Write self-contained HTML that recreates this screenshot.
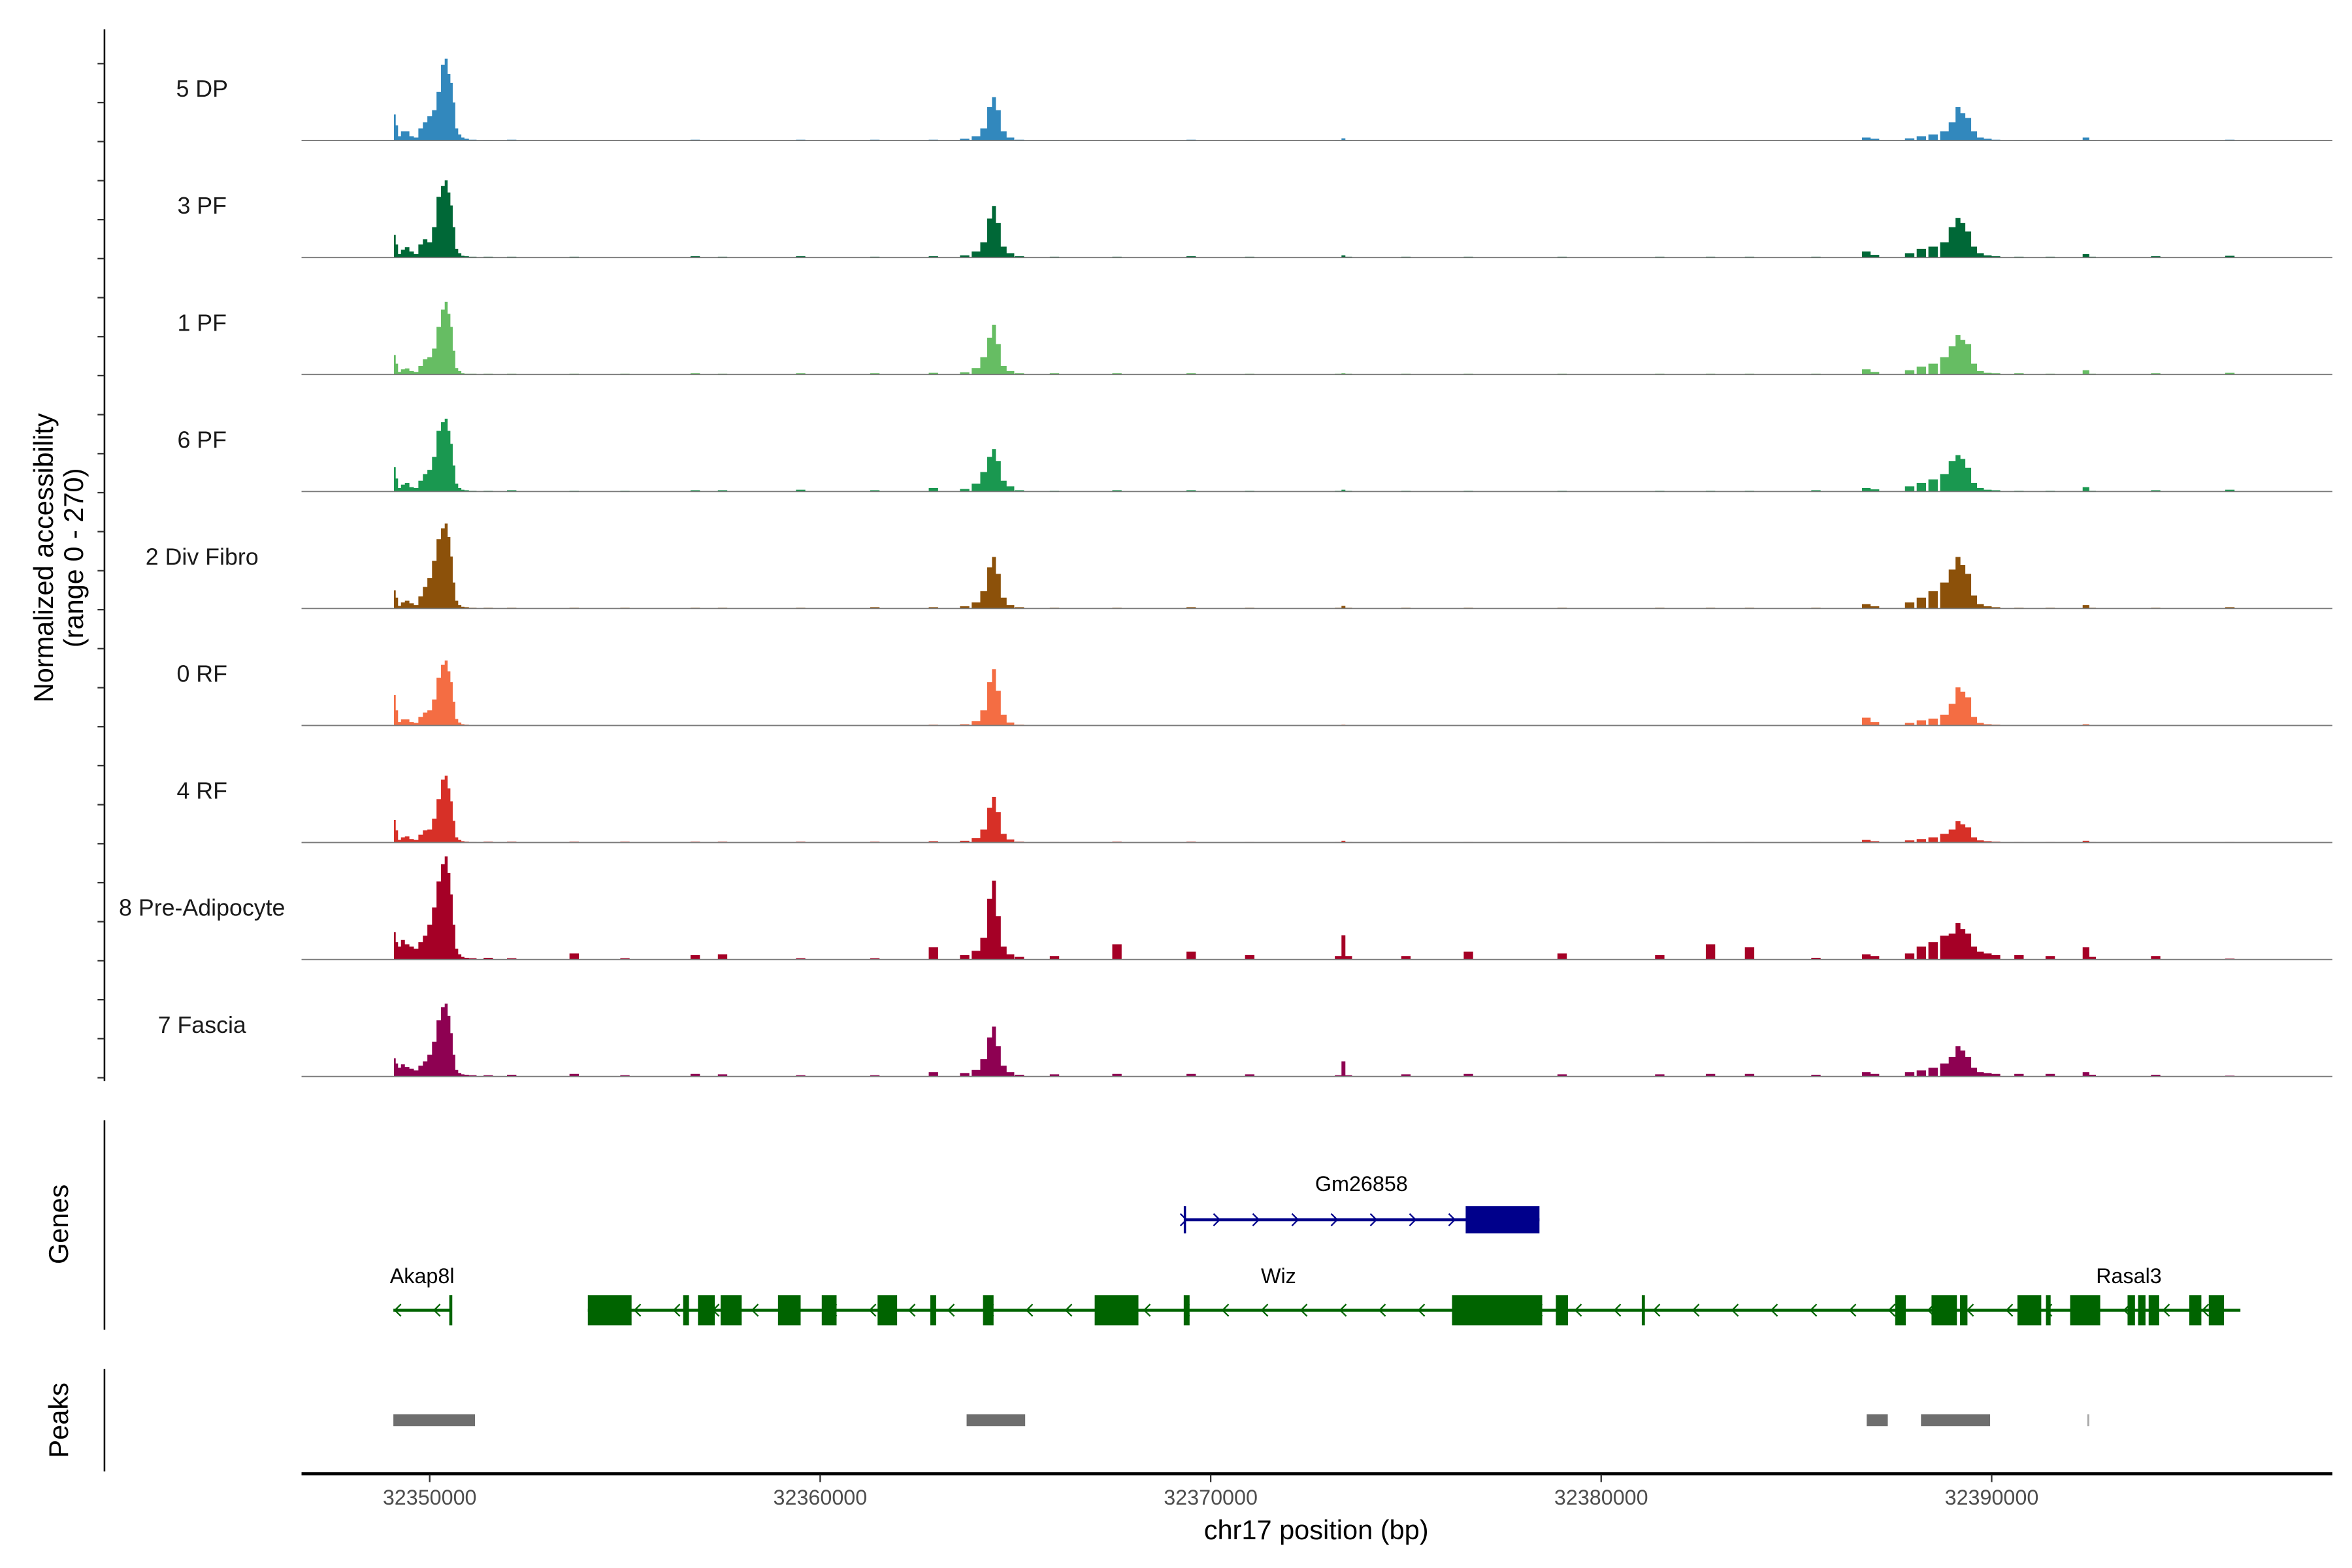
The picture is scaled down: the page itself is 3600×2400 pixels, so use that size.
<!DOCTYPE html>
<html><head><meta charset="utf-8"><style>
html,body{margin:0;padding:0;background:#fff;}
svg{display:block;font-family:"Liberation Sans",Arial,sans-serif;}
</style></head><body>
<svg id="chart" xmlns="http://www.w3.org/2000/svg" width="3600" height="2400" viewBox="0 0 1560 1040">
<rect x="0" y="0" width="1560" height="1040" fill="#fff"/>
<g id="tracks"></g>
<g id="genes"></g>
<g id="peaks"></g>
<g id="axes"></g>
<text x="0" y="0" transform="translate(35,370) rotate(-90)" text-anchor="middle" font-size="18" fill="#000">Normalized accessibility</text>
<text x="0" y="0" transform="translate(55,370) rotate(-90)" text-anchor="middle" font-size="18" fill="#000">(range 0 - 270)</text>
<text x="0" y="0" transform="translate(45,812) rotate(-90)" text-anchor="middle" font-size="18" fill="#000">Genes</text>
<text x="0" y="0" transform="translate(45,942) rotate(-90)" text-anchor="middle" font-size="18" fill="#000">Peaks</text>
<text x="873" y="1021" text-anchor="middle" font-size="18" fill="#000">chr17 position (bp)</text>
</svg>
<script>
// positions in kb relative to 32350000
const positionsKb = [-0.93,-0.90,-0.84,-0.78,-0.69,-0.58,-0.46,-0.35,-0.23,-0.12,0,0.12,0.23,0.35,0.42,0.50,0.56,0.62,0.69,0.77,0.85,0.93,1.08,
 1.5,2.1,3.7,5.0,6.8,7.5,9.5,11.4,12.9,
 13.7,14.0,14.2,14.35,14.45,14.55,14.7,14.85,15.1,
 16.0,17.6,19.5,21.0,23.3,23.4,23.5,25.0,26.6,29.0,31.5,32.8,33.8,35.5,
 36.8,37.0,37.9,38.2,38.5,38.8,39.0,39.15,39.25,39.4,39.55,39.7,39.9,40.1,40.7,
 41.5,42.45,42.55,44.2,46.1];
const trackNames = ["5 DP","3 PF","1 PF","6 PF","2 Div Fibro","0 RF","4 RF","8 Pre-Adipocyte","7 Fascia"];
const trackColors = ["#3288bd","#006837","#66bd63","#1a9850","#8c510a","#f46d43","#d73027","#a50026","#8e0152"];
const vals5DP = [0,60,35,10,21,21,10,7,28,42,56,70,112,175,189,154,133,88,28,14,7,4,2, 1,2,1,1,2,1,2,2,2, 4,10,28,77,100,70,21,7,2, 1,1,2,1,1,5,1,1,1,1,1,1,1,1, 7,4,5,10,14,21,42,77,63,52,21,7,4,2,1, 1,7,1,1,2];
const vals3PF = [0,52,30,8,18,24,14,8,30,42,35,70,140,165,178,150,120,70,20,10,4,3,2, 2,2,2,1,3,2,3,2,3, 5,14,35,90,119,80,25,10,3, 2,2,3,2,1,5,2,2,2,2,2,2,2,2, 14,6,10,20,25,35,70,91,80,60,25,10,5,3,2, 2,8,2,3,4];
const vals1PF = [0,45,25,6,12,14,8,6,20,35,40,60,110,150,168,140,110,55,15,8,3,2,2, 2,2,2,2,3,2,3,3,4, 5,15,40,85,115,70,20,8,3, 3,3,3,2,2,3,2,2,2,2,2,2,2,2, 12,6,10,18,25,40,65,91,80,70,25,8,4,3,3, 2,10,2,3,4];
const vals6PF = [0,56,30,8,16,20,10,8,25,40,50,80,140,160,168,140,110,60,18,8,4,3,2, 2,3,2,2,3,3,4,3,8, 6,18,45,80,98,70,25,12,3, 2,3,3,2,2,4,2,2,2,2,2,2,2,3, 8,5,12,20,28,40,70,84,75,55,20,8,4,3,2, 2,10,2,3,4];
const valsDivFibro = [0,42,25,6,14,18,12,8,28,50,70,110,160,185,196,165,120,60,18,8,4,3,2, 2,2,2,2,2,2,2,3,3, 5,14,40,95,119,80,25,8,3, 2,2,3,2,2,6,2,2,2,2,2,2,2,2, 10,5,14,25,40,60,90,119,100,80,30,10,5,3,2, 2,8,2,2,3];
const vals0RF = [0,70,35,8,14,14,8,6,20,30,35,60,110,140,150,125,100,55,15,7,3,2,1, 1,1,1,1,1,1,1,1,2, 3,10,35,100,130,80,25,7,2, 1,1,1,1,1,2,1,1,1,1,1,1,1,1, 18,8,6,12,16,25,50,88,78,65,20,6,3,2,1, 1,3,1,1,1];
const vals4RF = [0,52,28,6,12,14,8,6,18,28,30,55,100,145,154,125,95,50,12,6,3,2,1, 2,2,2,2,2,2,2,2,3, 4,10,30,80,105,70,20,7,2, 1,2,2,1,1,4,1,1,1,1,1,1,1,1, 6,3,5,8,12,20,30,49,42,35,12,5,3,2,1, 1,4,1,1,1];
const valsPreAdipo = [0,63,40,30,45,35,30,25,40,55,80,120,180,220,238,200,150,80,25,12,6,4,3, 4,3,14,3,10,12,3,3,28, 10,20,50,140,182,100,30,12,6, 8,35,18,10,8,56,8,8,18,14,10,35,28,4, 12,8,14,30,40,55,60,84,70,60,30,18,14,10,10, 8,28,6,8,2];
const valsFascia = [0,42,30,20,28,22,18,14,25,35,50,80,130,160,168,140,100,50,15,8,5,4,3, 3,4,6,3,6,5,3,3,10, 8,15,40,90,115,70,25,10,4, 5,6,6,5,3,35,3,5,6,5,5,6,6,4, 10,6,10,14,20,30,45,70,60,45,20,10,8,6,6, 6,10,4,4,2];
const allTrackValues = [vals5DP,vals3PF,vals1PF,vals6PF,valsDivFibro,vals0RF,vals4RF,valsPreAdipo,valsFascia];
const yRangeMax = 270;
const xTickLabels = ["32350000","32360000","32370000","32380000","32390000"];
const xTickValuesKb = [0,10,20,30,40];
const wizStartKb = 4.05, wizEndKb = 46.37;
const wizExonStarts = [4.05,6.49,6.87,7.45,8.92,10.04,11.47,12.82,14.17,17.03,19.31,26.18,28.84,31.04,37.53,38.46,39.19,40.66,41.39,42.01,43.48,43.75,44.02,45.06,45.56];
const wizExonEnds   = [5.17,6.64,7.30,7.99,9.50,10.42,11.97,12.97,14.44,18.15,19.46,28.49,29.15,31.12,37.80,39.11,39.38,41.27,41.51,42.78,43.67,43.94,44.29,45.37,45.95];
const akapStartKb = -0.93, akapEndKb = 0.54;
const gmStartKb = 19.34, gmEndKb = 28.42, gmExonStartKb = 26.53;
const peakStarts = [-0.93,13.75,36.80,38.19,42.45];
const peakEnds   = [1.16,15.25,37.34,39.96,42.50];

const NS="http://www.w3.org/2000/svg";
function mk(tag, attrs, parent){const e=document.createElementNS(NS,tag);for(const k in attrs)e.setAttribute(k,attrs[k]);parent.appendChild(e);return e;}
function xScale(kb){return 285 + kb*25.9;}
const trackBase0 = 93.2, trackStep = 77.6, trackH = 77.6;
function yScale(v, base){return base - v/yRangeMax*trackH;}

const tracksG=document.getElementById('tracks');
const n=positionsKb.length;
allTrackValues.forEach((vals,i)=>{
  const base = trackBase0 + i*trackStep;
  let d = "";
  let prevRight = null;
  for(let j=0;j<n;j++){
    const p=positionsKb[j];
    const gl = j>0 ? (p-positionsKb[j-1])/2 : 0.03;
    const gr = j<n-1 ? (positionsKb[j+1]-p)/2 : 0.12;
    const l = p - Math.min(gl,0.12), r = p + Math.min(gr,0.12);
    const y = yScale(vals[j],base).toFixed(2);
    if(prevRight===null || Math.abs(prevRight-l)>1e-6){
      if(prevRight!==null) d += " L"+xScale(prevRight).toFixed(2)+","+base+" Z";
      d += " M"+xScale(l).toFixed(2)+","+base;
    }
    d += " L"+xScale(l).toFixed(2)+","+y+" L"+xScale(r).toFixed(2)+","+y;
    prevRight = r;
  }
  d += " L"+xScale(prevRight).toFixed(2)+","+base+" Z";
  const path=mk('path',{d:d,fill:trackColors[i],stroke:'none'},tracksG);
  
  
  const bl=mk('line',{x1:200,x2:1547,y1:base,y2:base,stroke:'#7a7a7a','stroke-width':0.8},tracksG);
  
  
  const t=mk('text',{x:134,y:base-29,'text-anchor':'middle','font-size':15.5,fill:'#1a1a1a'},tracksG);
  t.textContent=trackNames[i];
  
  
});

const axesG=document.getElementById('axes');
function ln(x1,y1,x2,y2,stroke,w,name,parent){const l=mk('line',{x1:x1,y1:y1,x2:x2,y2:y2,stroke:stroke,'stroke-width':w},parent||axesG);return l;}
ln(69.3,19.5,69.3,717,'#000',1.1,'y-axis-line');
for(let k=0;k<27;k++){const y=714.8-k*25.87;if(y<30)break;ln(64.7,y,69.3,y,'#333',1,'y-axis-tick');}
ln(69.3,743,69.3,882,'#000',1.1,'genes-axis-line');
ln(69.3,908,69.3,976,'#000',1.1,'peaks-axis-line');
ln(200,977.5,1547,977.5,'#000',2.2,'x-axis-line');
xTickValuesKb.forEach((v,i)=>{
  const x=xScale(v);
  ln(x,978,x,983,'#333',1,'x-axis-tick');
  const t=mk('text',{x:x,y:998,'text-anchor':'middle','font-size':14,fill:'#4d4d4d'},axesG);
  t.textContent=xTickLabels[i];
  
  
});

const genesG=document.getElementById('genes');
const green="#006400", navy="#00008b";
function chevron(x,y,dir,color){const p=mk('path',{d:dir<0?`M${x+3},${y-4} L${x-1},${y} L${x+3},${y+4}`:`M${x-3},${y-4} L${x+1},${y} L${x-3},${y+4}`,fill:'none',stroke:color,'stroke-width':1},genesG);}
const gy=869;
ln(xScale(wizStartKb),gy,xScale(wizEndKb),gy,green,2,'wiz-intron-line',genesG);
for(let x=xScale(wizStartKb)+6;x<xScale(wizEndKb)-2;x+=26){chevron(x,gy,-1,green);}
wizExonStarts.forEach((s,i)=>{const r=mk('rect',{x:xScale(s),y:859,width:Math.max(1.5,xScale(wizExonEnds[i])-xScale(s)),height:20,fill:green},genesG);});
ln(xScale(akapStartKb),gy,xScale(akapEndKb),gy,green,2,'akap8l-line',genesG);
chevron(xScale(akapStartKb)+2,gy,-1,green);chevron(xScale(akapStartKb)+28,gy,-1,green);
ln(xScale(akapEndKb),859,xScale(akapEndKb),879,green,2,'akap8l-exon',genesG);
const gmy=809;
ln(xScale(gmStartKb),gmy,xScale(gmEndKb),gmy,navy,2,'gm26858-line',genesG);
for(let x=xScale(gmStartKb)+22;x<xScale(gmExonStartKb);x+=26){chevron(x,gmy,1,navy);}
chevron(xScale(gmStartKb),gmy,1,navy);
ln(xScale(gmStartKb),800,xScale(gmStartKb),818,navy,1.5,'gm26858-tss',genesG);
{const r=mk('rect',{x:xScale(gmExonStartKb),y:800,width:xScale(gmEndKb)-xScale(gmExonStartKb),height:18,fill:navy},genesG);}
[["Gm26858",903,790],["Akap8l",280,851],["Wiz",848,851],["Rasal3",1412,851]].forEach(g=>{
  const t=mk('text',{x:g[1],y:g[2],'text-anchor':'middle','font-size':14,fill:'#000'},genesG);
  t.textContent=g[0];
  
  
});

const peaksG=document.getElementById('peaks');
peakStarts.forEach((s,i)=>{
  const w=Math.max(1,xScale(peakEnds[i])-xScale(s));
  const r=mk('rect',{x:xScale(s),y:938,width:w,height:8,fill:w<2?'#aaaaaa':'#6e6e6e'},peaksG);
  
  
});
</script>
</body></html>
